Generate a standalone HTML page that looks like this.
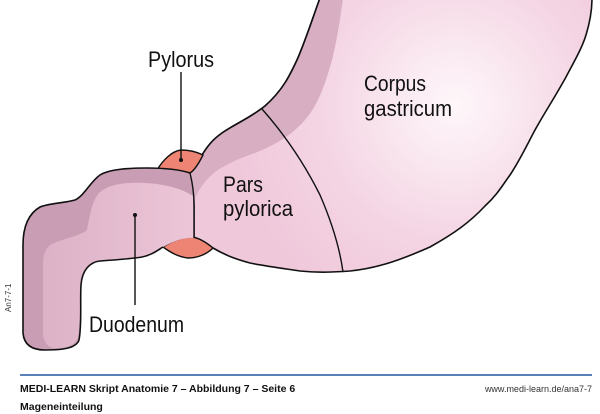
<!DOCTYPE html>
<html><head><meta charset="utf-8"><style>
html,body{margin:0;padding:0;background:#fff;}
svg{display:block;}
</style></head><body>
<svg width="600" height="414" viewBox="0 0 600 414" xmlns="http://www.w3.org/2000/svg">
<defs>
<radialGradient id="g" cx="455" cy="105" r="230" gradientUnits="userSpaceOnUse">
<stop offset="0" stop-color="#fef7fa"/><stop offset="0.6" stop-color="#f4d4e3"/><stop offset="1" stop-color="#efc8da"/>
</radialGradient>
<linearGradient id="d" x1="0" y1="0" x2="1" y2="0">
<stop offset="0" stop-color="#dcb2c6"/><stop offset="1" stop-color="#edc6d8"/>
</linearGradient>
</defs>
<!-- stomach -->
<path d="M320,-2 C312,20 305,42 297,60 C290,75 283,90 265,106 C250,118 235,124 222,133 C212,140 207,147 202,155 L190,173 C193,185 194,195 194,205 L194,238 C200,241 207,244 213,248 C225,255 235,259 250,263 C265,266 280,268 300,271 C320,273 335,272 350,271 C380,268 405,258 430,247 C455,233 470,222 485,206 C497,195 502,186 510,175 C520,160 528,143 535,130 C545,112 555,97 566,77 C575,60 582,48 586,35 C590,22 592,10 592,-2 Z" fill="url(#g)" stroke="#111" stroke-width="1.6"/>
<!-- band -->
<path d="M320,-2 C312,20 305,42 297,60 C290,75 283,90 265,106 C250,118 235,124 222,133 C212,140 207,147 202,155 L190,173 C193,185 194,195 193,203 C198,190 205,180 215,172 C228,163 240,158 255,153 C275,145 292,135 305,120 C318,105 325,85 332,60 C337,40 340,20 343,-2 Z" fill="#d7aec2"/>
<path d="M320,-2 C312,20 305,42 297,60 C290,75 283,90 265,106 C250,118 235,124 222,133 C212,140 207,147 202,155" fill="none" stroke="#111" stroke-width="1.6"/>
<!-- separation -->
<path d="M262,109 C285,135 305,165 320,195 C333,225 340,250 343,272" fill="none" stroke="#111" stroke-width="1.4"/>
<!-- pylorus blobs -->
<path d="M157,170 C163,160 172,151 181,150 C190,150 197,152 203,155 C199,163 195,170 190,173 C178,175 167,173 157,170 Z" fill="#ee8574" stroke="#111" stroke-width="1.4"/>
<path d="M163,247 C172,241 182,237 192,237 C200,238 207,243 213,248 C207,254 198,258 188,258 C178,257 170,252 163,247 Z" fill="#ee8574" stroke="#111" stroke-width="1.4"/>
<!-- duodenum -->
<path d="M190,173 C178,169 160,168 147,168 C125,168 108,170 100,175 C90,182 85,195 75,200 C65,203 50,203 40,207 C28,214 23,228 23,245 L23,333 C24,345 32,350 45,350 C60,350 76,349 79,340 C82,325 80,300 81,285 C82,270 90,262 100,261 C115,260 130,259 142,257 C152,255 158,250 163,247 C175,240 186,237 194,238 L194,205 C194,195 193,185 190,173 Z" fill="#c99db3"/>
<path d="M193,196 C180,188 165,184 145,183 C125,182 110,184 100,192 C92,200 90,215 87,230 C80,236 65,238 52,244 C45,248 43,255 43,265 L43,335 C45,345 50,348 55,348 C65,349 76,345 78,337 C81,322 80,300 81,285 C82,270 90,262 100,261 C115,260 130,259 142,257 C152,255 158,250 163,247 C175,240 186,237 194,238 Z" fill="url(#d)"/>
<path d="M190,173 C178,169 160,168 147,168 C125,168 108,170 100,175 C90,182 85,195 75,200 C65,203 50,203 40,207 C28,214 23,228 23,245 L23,333 C24,345 32,350 45,350 C60,350 76,349 79,340 C82,325 80,300 81,285 C82,270 90,262 100,261 C115,260 130,259 142,257 C152,255 158,250 163,247" fill="none" stroke="#111" stroke-width="1.6"/>
<path d="M190,173 C193,185 194,195 194,205 L194,238" fill="none" stroke="#111" stroke-width="1.4"/>
<!-- leaders -->
<line x1="181" y1="72" x2="181" y2="160" stroke="#111" stroke-width="1.4"/>
<circle cx="181" cy="160" r="2" fill="#111"/>
<line x1="135" y1="215" x2="135" y2="305" stroke="#111" stroke-width="1.4"/>
<circle cx="135" cy="215" r="2" fill="#111"/>
<!-- labels -->
<g font-family="Liberation Sans Narrow, Liberation Sans, sans-serif" font-size="22" fill="#111">
<text x="148" y="67" textLength="66" lengthAdjust="spacingAndGlyphs">Pylorus</text>
<text x="364" y="91" textLength="62" lengthAdjust="spacingAndGlyphs">Corpus</text>
<text x="364" y="116" textLength="88" lengthAdjust="spacingAndGlyphs">gastricum</text>
<text x="223" y="192" textLength="40" lengthAdjust="spacingAndGlyphs">Pars</text>
<text x="223" y="216" textLength="70" lengthAdjust="spacingAndGlyphs">pylorica</text>
<text x="89" y="332" textLength="95" lengthAdjust="spacingAndGlyphs">Duodenum</text>
</g>
<text x="0" y="0" transform="translate(11,312) rotate(-90)" font-family="Liberation Sans, sans-serif" font-size="8" fill="#333">An7-7-1</text>
<!-- footer -->
<line x1="20" y1="375" x2="592" y2="375" stroke="#5b80b8" stroke-width="2"/>
<text x="20" y="392" font-family="Liberation Sans, sans-serif" font-size="10.5" font-weight="bold" fill="#111">MEDI-LEARN Skript Anatomie 7 – Abbildung 7 – Seite 6</text>
<text x="20" y="410" font-family="Liberation Sans, sans-serif" font-size="10.5" font-weight="bold" fill="#111">Mageneinteilung</text>
<text x="592" y="392" text-anchor="end" font-family="Liberation Sans, sans-serif" font-size="9" fill="#333">www.medi-learn.de/ana7-7</text>
</svg>
</body></html>
